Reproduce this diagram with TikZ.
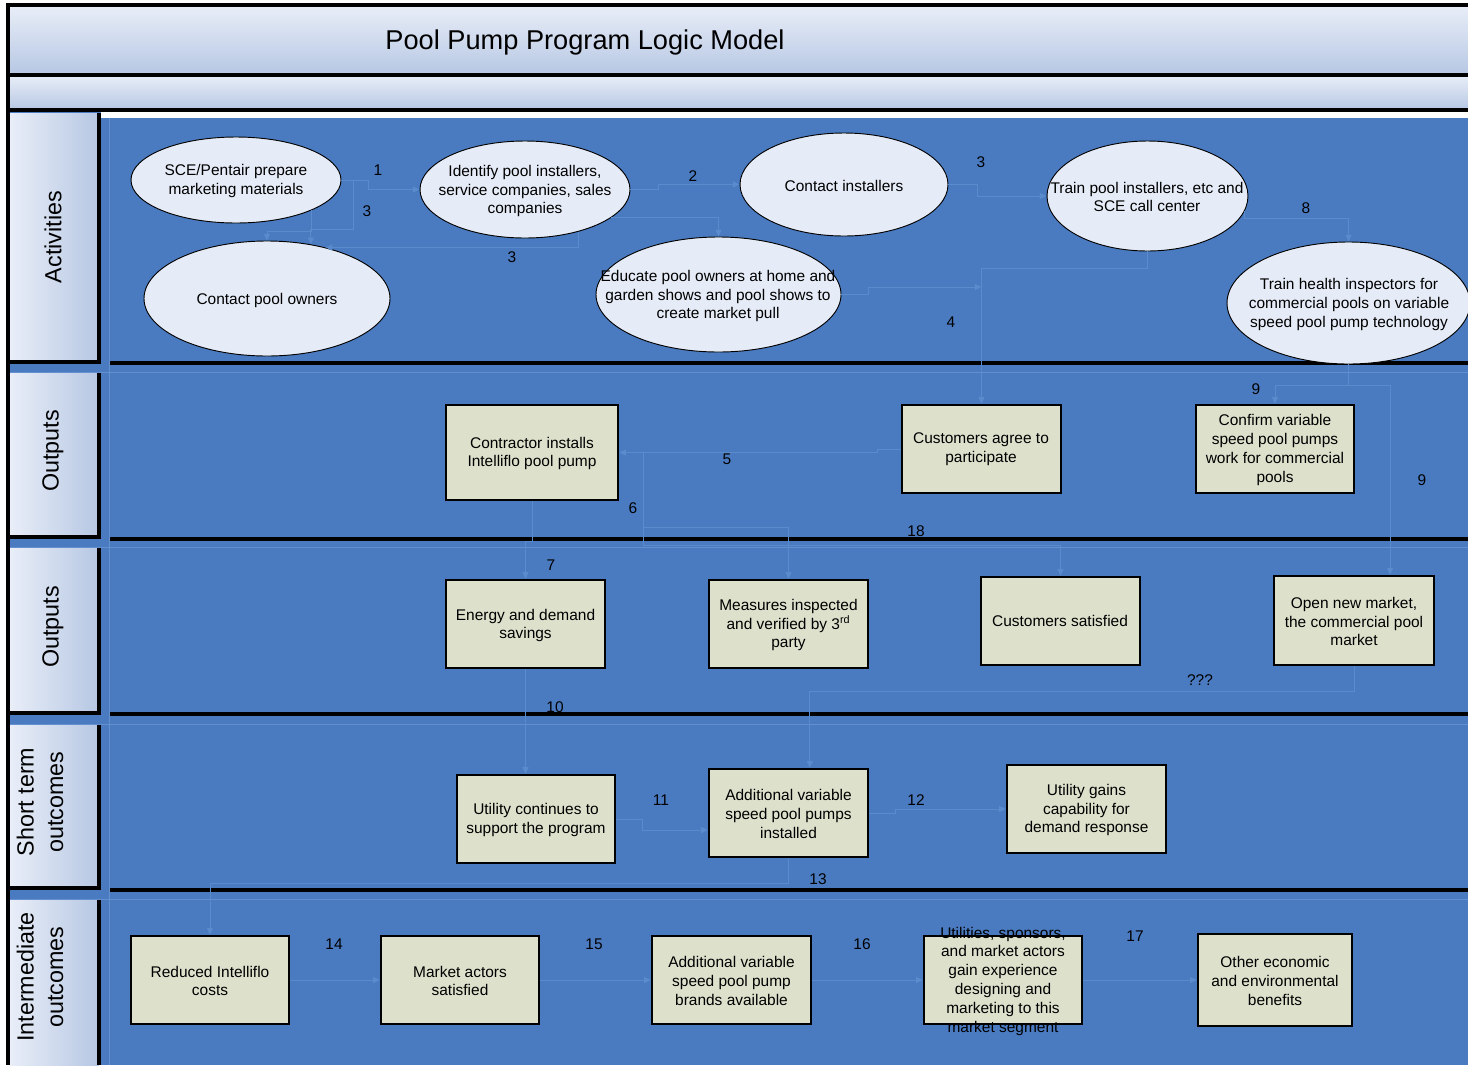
\documentclass[tikz,border=0pt]{standalone}
\usepackage{fontspec}
\setmainfont{Liberation Sans}
\usetikzlibrary{shapes.geometric,arrows.meta}

\definecolor{lanebg}{RGB}{74,123,193}
\definecolor{ellfill}{RGB}{230,236,247}
\definecolor{boxfill}{RGB}{221,225,204}
\definecolor{bandlight}{RGB}{233,238,248}
\definecolor{banddark}{RGB}{182,199,227}
\definecolor{linkcol}{RGB}{90,139,205}
\definecolor{seamcol}{RGB}{100,144,208}

\newcommand\nodefont{\fontsize{11.6}{14.1}\selectfont}

\begin{document}
\begin{tikzpicture}[x=0.75pt,y=-0.75pt,
  ell/.style={ellipse,draw=black,line width=0.7pt,fill=ellfill,inner sep=0pt},
  stepbox/.style={rectangle,draw=black,line width=1.8pt,fill=boxfill,inner sep=0pt},
  txt/.style={align=center,font=\nodefont,inner sep=0pt,text=black,yshift=-1.5pt},
  num/.style={font=\nodefont,inner sep=0pt,text=black},
  link/.style={draw=linkcol,line width=0.7pt,-{Triangle[length=5pt,width=4.5pt]}},
  lanelab/.style={rotate=90,align=center,font=\fontsize{17.5}{22}\selectfont},
  divider/.style={line width=3pt,black},
]
\useasboundingbox (0,0) rectangle (1468,1065);
\fill[white] (0,0) rectangle (1468,1065);

% swimlane background
\fill[lanebg] (8,110) rectangle (1468,1065);

% title bands
\shade[top color=bandlight,bottom color=banddark] (8,5) rectangle (1468,75);
\shade[top color=bandlight,bottom color=banddark] (8,75) rectangle (1468,110);
\node[font=\fontsize{20.4}{24}\selectfont,yshift=-1.5pt] (title) at (585,40) {Pool Pump Program Logic Model};

% white strip under the header
\fill[white] (101,112) rectangle (1468,117.5);

% faint seams of the lanes
\draw[seamcol,line width=0.5pt] (109,118) -- (109,1065);
\foreach \yy in {372,547,724,899}
  \draw[seamcol,line width=0.5pt] (9,\yy) -- (1468,\yy);

% lane label panels
\foreach \ya/\yb in {113/362,373/537,548/713,725/888,900/1065}{
  \shade[left color=bandlight,right color=banddark] (9.5,\ya) rectangle (99,\yb);
  \draw[line width=3pt] (99,\ya) -- (99,\yb);
}
\foreach \yb in {362,537,713,888}
  \draw[line width=3pt] (9,\yb) -- (100.5,\yb);

\node[lanelab] (labact) at (53,237) {Activities};
\node[lanelab] (labout1) at (53,451) {Outputs};
\node[lanelab] (labout2) at (53,627) {Outputs};
\node[lanelab] (labshort) at (40,802) {Short term\\outcomes};
\node[lanelab] (labinter) at (40,977) {Intermediate\\outcomes};

% frame and dividers
\draw[line width=2.3pt] (8,1065) -- (8,5) -- (1468,5);
\draw[divider] (8,75) -- (1468,75);
\draw[divider] (8,110) -- (1468,110);
\foreach \yy in {363,539,713.5,890}
  \draw[divider] (110,\yy) -- (1468,\yy);

% activities
\node[ell,minimum width=157.5pt,minimum height=64.5pt] (sce) at (236,180) {};
\node[txt] (sce-t) at (236,179) {SCE/Pentair prepare\\marketing materials};
\node[ell,minimum width=157.5pt,minimum height=72.75pt] (ident) at (525,189.5) {};
\node[txt] (ident-t) at (525,189) {Identify pool installers,\\service companies, sales\\companies};
\node[ell,minimum width=156pt,minimum height=77.25pt] (cinst) at (844,184.5) {};
\node[txt] (cinst-t) at (844,184) {Contact installers};
\node[ell,minimum width=150.75pt,minimum height=82.5pt] (trainpi) at (1147.5,196) {};
\node[txt] (trainpi-t) at (1147,195) {Train pool installers, etc and\\SCE call center};
\node[ell,minimum width=184.5pt,minimum height=86.25pt] (cowners) at (267,298.5) {};
\node[txt] (cowners-t) at (267,298) {Contact pool owners};
\node[ell,minimum width=183.75pt,minimum height=86.25pt] (educate) at (718.5,294.5) {};
\node[txt] (educate-t) at (718,294) {Educate pool owners at home and\\garden shows and pool shows to\\create market pull};
\node[ell,minimum width=182.25pt,minimum height=91.5pt] (trainhi) at (1348.5,303) {};
\node[txt] (trainhi-t) at (1349,302.5) {Train health inspectors for\\commercial pools on variable\\speed pool pump technology};

% outputs
\node[stepbox,minimum width=129pt,minimum height=71.25pt] (contractor) at (532,452.5) {};
\node[txt] (contractor-t) at (532,451.5) {Contractor installs\\Intelliflo pool pump};
\node[stepbox,minimum width=119.25pt,minimum height=66pt] (cagree) at (981.5,449) {};
\node[txt] (cagree-t) at (981,447.5) {Customers agree to\\participate};
\node[stepbox,minimum width=118.5pt,minimum height=66pt] (confirm) at (1275,449) {};
\node[txt] (confirm-t) at (1275,448) {Confirm variable\\speed pool pumps\\work for commercial\\pools};

\node[stepbox,minimum width=119.25pt,minimum height=66pt] (energy) at (525.5,624) {};
\node[txt] (energy-t) at (525.5,623.5) {Energy and demand\\savings};
\node[stepbox,minimum width=119.25pt,minimum height=66pt] (measures) at (788.5,624) {};
\node[txt] (measures-t) at (788.5,623) {Measures inspected\\and verified by 3\textsuperscript{rd}\\party};
\node[stepbox,minimum width=119.25pt,minimum height=66pt] (csat) at (1060.5,621) {};
\node[txt] (csat-t) at (1060,619) {Customers satisfied};
\node[stepbox,minimum width=120pt,minimum height=66.75pt] (openmkt) at (1354,620.5) {};
\node[txt] (openmkt-t) at (1354,619.5) {Open new market,\\the commercial pool\\market};

% short term outcomes
\node[stepbox,minimum width=118.5pt,minimum height=66pt] (ucont) at (536,819) {};
\node[txt] (ucont-t) at (536,818) {Utility continues to\\support the program};
\node[stepbox,minimum width=119.25pt,minimum height=66pt] (addvsp) at (788.5,813) {};
\node[txt] (addvsp-t) at (788.5,812) {Additional variable\\speed pool pumps\\installed};
\node[stepbox,minimum width=119.25pt,minimum height=66pt] (ugains) at (1086.5,809) {};
\node[txt] (ugains-t) at (1086.5,808) {Utility gains\\capability for\\demand response};

% intermediate outcomes
\node[stepbox,minimum width=118.5pt,minimum height=66pt] (reduced) at (210,980) {};
\node[txt] (reduced-t) at (210,979) {Reduced Intelliflo\\costs};
\node[stepbox,minimum width=118.5pt,minimum height=66pt] (mactors) at (460,980) {};
\node[txt] (mactors-t) at (460,979) {Market actors\\satisfied};
\node[stepbox,minimum width=119.25pt,minimum height=66pt] (brands) at (731.5,980) {};
\node[txt] (brands-t) at (731.5,979) {Additional variable\\speed pool pump\\brands available};
\node[stepbox,minimum width=118.5pt,minimum height=66pt] (utilsp) at (1003,980) {};
\node[txt] (utilsp-t) at (1003,979) {Utilities, sponsors,\\and market actors\\gain experience\\designing and\\marketing to this\\market segment};
\node[stepbox,minimum width=115.5pt,minimum height=69pt] (other) at (1275,980) {};
\node[txt] (other-t) at (1275,979) {Other economic\\and environmental\\benefits};

% connectors among the activities
\draw[link] (sce.east) -- (368,180) |- (ident.west);
\draw[link] (sce.east) -| (353,229) -| (cowners.51);
\draw[link] (sce.-22) -- ++(0,21) -| (cowners.north);
\draw[link] (ident.-38) |- (cowners.41);
\draw[link] (ident.-18) -| (educate.north);
\draw[link] (ident.east) -- (658,189.5) |- (cinst.west);
\draw[link] (cinst.east) -- (977,184.5) |- (trainpi.west);
\coordinate (m4) at (981.5,287);
\draw[link] (educate.east) -- (868,294.5) |- (m4);
\draw[link] (trainpi.south) -- ++(0,17) -| (cagree.north);
\draw[link] (trainpi.-9) -- ++(0,7) -| (trainhi.north);
\draw[link] (trainhi.south) -- ++(0,21) -| (confirm.north);
\draw[link] (trainhi.south) -- ++(0,21) -| ([xshift=27pt]openmkt.north);

% connectors among the outputs
\coordinate (j6) at (643,452.5);
\draw[link] (cagree.west) -- (877,449) |- (contractor.east);
\draw[link] (j6) -- (643,527) -| (measures.north);
\draw[link] (j6) -- (643,545) -| (csat.north);
\draw[link] (contractor.south) -- ++(0,40) -| (energy.north);
\draw[link] (openmkt.south) -- ++(0,25) -| ([xshift=16pt]addvsp.north);

% connectors among the outcomes
\draw[link] (energy.south) -- (energy.south |- ucont.north);
\draw[link] (ucont.east) -- (642,819) |- ([yshift=-12.75pt]addvsp.west);
\draw[link] (addvsp.east) -- (895,813) |- (ugains.west);
\draw[link] (addvsp.south) -- ++(0,25) -| (reduced.north);
\draw[link] (reduced.east) -- (mactors.west);
\draw[link] (mactors.east) -- (brands.west);
\draw[link] (brands.east) -- (utilsp.west);
\draw[link] (utilsp.east) -- (other.west);

% connector numbers
\node[num] (l1) at (378,170) {1};
\node[num] (l3a) at (367,211) {3};
\node[num] (l3b) at (512,257) {3};
\node[num] (l2) at (693,176) {2};
\node[num] (l3c) at (981,162) {3};
\node[num] (l8) at (1306,208) {8};
\node[num] (l4) at (951,322) {4};
\node[num] (l9a) at (1256,389) {9};
\node[num] (l9b) at (1422,480) {9};
\node[num] (l5) at (727,459) {5};
\node[num] (l6) at (633,508) {6};
\node[num] (l18) at (916,531) {18};
\node[num] (l7) at (551,565) {7};
\node[num] (lq) at (1200,680) {???};
\node[num] (l10) at (555,707) {10};
\node[num] (l11) at (661,800) {11};
\node[num] (l12) at (916,800) {12};
\node[num] (l13) at (818,879) {13};
\node[num] (l14) at (334,944) {14};
\node[num] (l15) at (594,944) {15};
\node[num] (l16) at (862,944) {16};
\node[num] (l17) at (1135,936) {17};
\end{tikzpicture}
\end{document}
